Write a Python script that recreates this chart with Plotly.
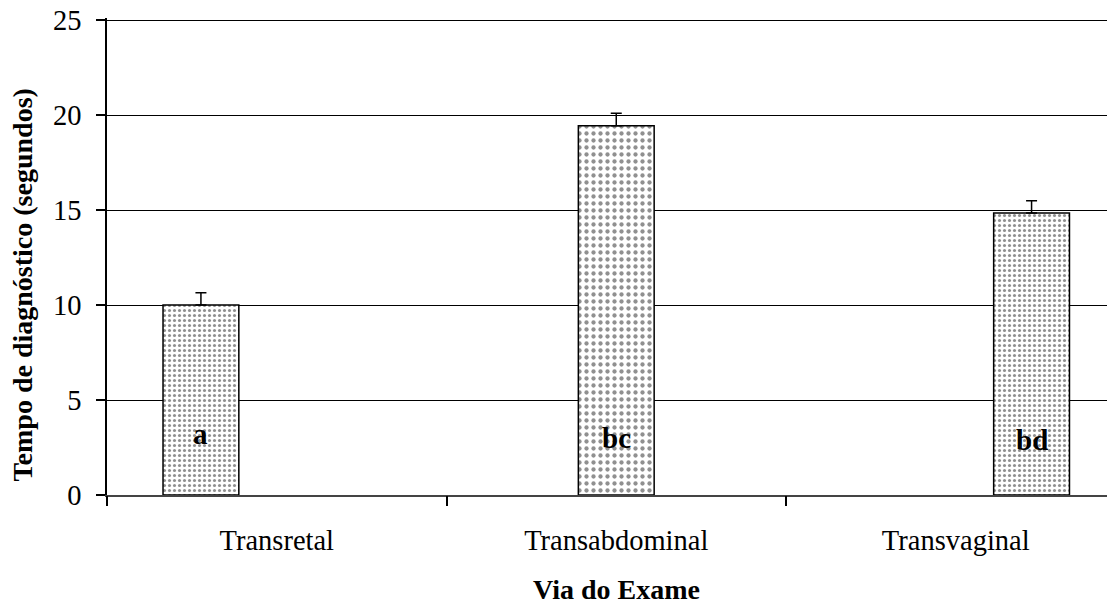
import plotly.graph_objects as go

categories = ["Transretal", "Transabdominal", "Transvaginal"]
means = [10.0, 19.45, 14.85]
errors = [0.65, 0.65, 0.65]
letters = ["a", "bc", "bd"]
letter_y = [3.2, 3.0, 2.9]
y_ticks = [0, 5, 10, 15, 20, 25]

FONT = "Liberation Serif, Times New Roman, serif"
bargap = 0.33
n = len(categories)
pattern_sizes = [5, 7, 5]

# page body has an 8px margin: shrink the figure accordingly
OFF = 8
W, H = 1115 - OFF, 604 - OFF
L, T, B = 107 - OFF, 18 - OFF, 109

fig = go.Figure()
xs = list(range(n))
for i in range(n):
    vals = [means[j] if j == i else None for j in range(n)]
    errs = [errors[j] if j == i else 0 for j in range(n)]
    fig.add_trace(go.Bar(
        x=xs, y=vals,
        marker=dict(color="white",
                    line=dict(color="black", width=1.5),
                    pattern=dict(shape=".", fgcolor="#222222", bgcolor="white",
                                 size=pattern_sizes[i], solidity=0.3)),
        error_y=dict(type="data", symmetric=False, array=errs,
                     arrayminus=[0] * n, color="black", thickness=1.5, width=5.5),
        showlegend=False,
    ))

w = (1 - bargap) / n
for i in range(n):
    fig.add_annotation(x=i + (i - 1) * w, y=letter_y[i], text="<b>%s</b>" % letters[i],
                       showarrow=False, xref="x", yref="y",
                       font=dict(family=FONT, size=29, color="black"))

plot_h = H - T - B
x_end = -0.5 + (W - L) / 339.5
fig.update_layout(
    width=W, height=H,
    margin=dict(l=L, r=0, t=T, b=B, autoexpand=False),
    paper_bgcolor="white", plot_bgcolor="white",
    barmode="group", bargap=bargap,
    font=dict(family=FONT, size=28, color="black"),
    xaxis=dict(range=[-0.5, x_end], tickvals=xs, ticktext=categories,
               ticks="", showgrid=False, showline=True, linecolor="#444",
               linewidth=2, zeroline=False, ticklabelstandoff=19,
               tickfont=dict(family=FONT, size=28.5, color="black")),
    xaxis2=dict(range=[-0.5, x_end], overlaying="x", anchor="y", side="bottom",
                tickvals=[-0.5, 0.5, 1.5], ticks="outside", ticklen=10,
                tickwidth=1.5, tickcolor="black", showticklabels=False,
                showgrid=False, showline=False, zeroline=False),
    yaxis=dict(range=[0, 25.12], tickvals=y_ticks, ticks="outside", ticklen=9,
               tickcolor="black", tickwidth=1.5, showline=True, linecolor="black",
               linewidth=1.5, gridcolor="black", gridwidth=1, zeroline=False,
               ticklabelstandoff=9, ticklabeloverflow="allow",
               tickfont=dict(family=FONT, size=28.5, color="black")),
)
fig.add_trace(go.Scatter(x=[None], y=[None], xaxis="x2", yaxis="y",
                         showlegend=False, hoverinfo="skip"))

fig.add_annotation(text="<b>Via do Exame</b>", xref="x", yref="paper",
                   x=1.0, y=-((589 - OFF) - (H - B)) / plot_h,
                   yanchor="middle",
                   showarrow=False, font=dict(family=FONT, size=28, color="black"))
fig.add_annotation(text="<b>Tempo de diagnóstico (segundos)</b>", xref="paper",
                   yref="paper", x=(22 - 107) / (W - L),
                   y=((H - B) - (285.5 - OFF)) / plot_h,
                   xanchor="center", yanchor="middle", textangle=-90,
                   showarrow=False, font=dict(family=FONT, size=28, color="black"))

fig.write_html("out.html")
